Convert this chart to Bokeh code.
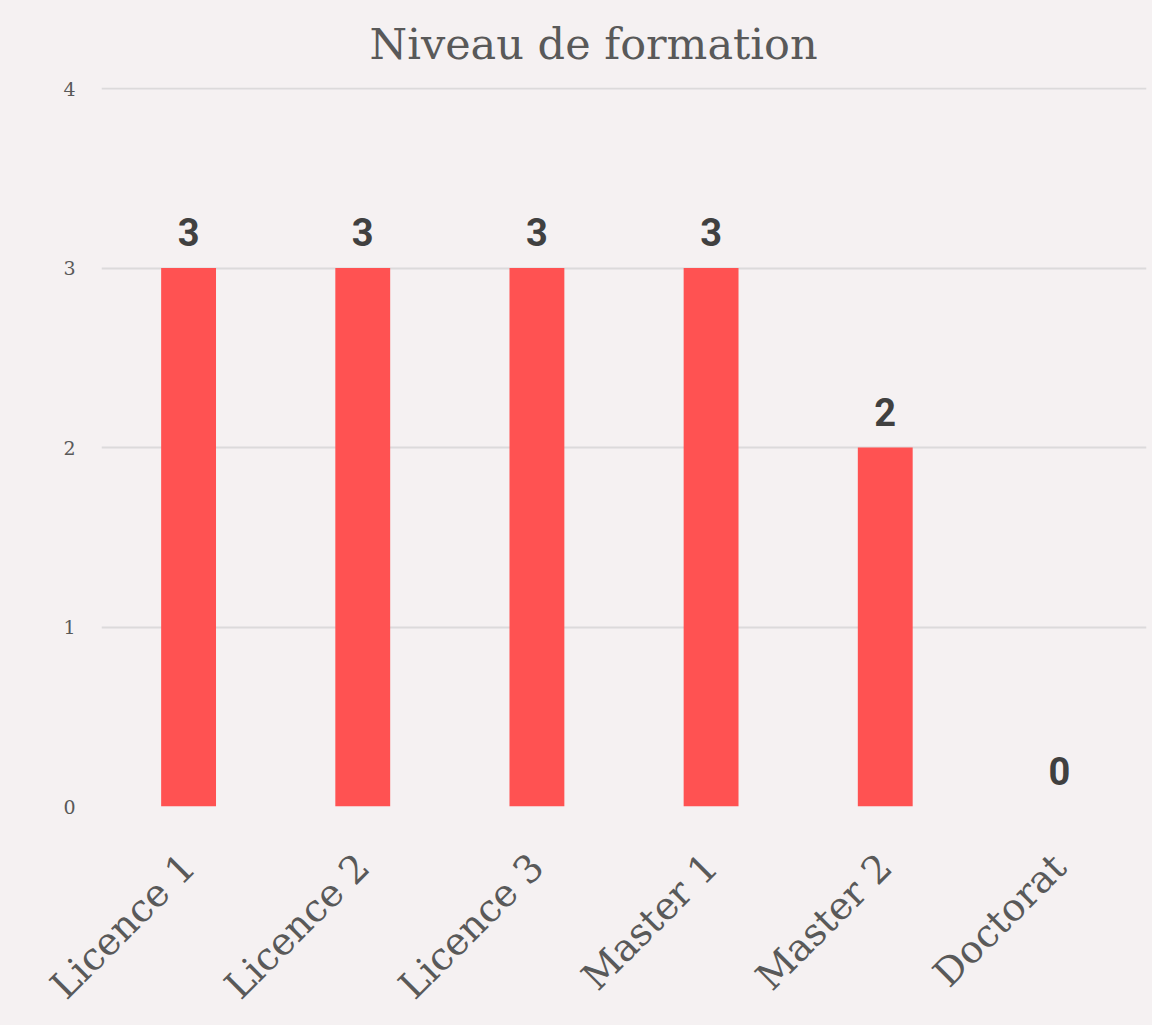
import numpy as np
from bokeh.plotting import figure
from bokeh.models import ColumnDataSource, FactorRange, Range1d, FixedTicker
from bokeh.core.properties import value
from bokeh.embed import file_html
from bokeh.resources import INLINE

categories = ["Licence 1", "Licence 2", "Licence 3", "Master 1", "Master 2", "Doctorat"]
counts = [3, 3, 3, 3, 2, 0]
y_ticks = [0, 1, 2, 3, 4]

BG = "#F5F1F2"
source = ColumnDataSource(data=dict(cat=categories, n=counts, lbl=[str(c) for c in counts]))

p = figure(x_range=FactorRange(*categories, range_padding=0), y_range=Range1d(0, 4.006),
           width=1152, height=1025, output_backend="svg", toolbar_location=None,
           title="Niveau de formation",
           min_border_left=101, min_border_right=6, min_border_top=87, min_border_bottom=218)

p.background_fill_color = BG
p.border_fill_color = BG
p.outline_line_color = None

p.title.text_font = "DejaVu Serif"
p.title.text_font_size = "43px"
p.title.text_font_style = "normal"
p.title.text_color = "#595959"
p.title.align = "left"
p.title.vertical_align = "top"
p.title.offset = 268
p.title.standoff = 33

p.vbar(x="cat", top="n", width=0.315, source=source, color="#FF5252", line_color=None)
p.text(x="cat", y="n", text="lbl", source=source, text_align="center",
       text_baseline="alphabetic", y_offset=-36, text_font=value("Roboto"),
       text_font_style="bold", text_font_size="38px", text_color="#404040")

p.yaxis.ticker = FixedTicker(ticks=y_ticks)
p.yaxis.axis_line_color = None
p.yaxis.major_tick_line_color = None
p.yaxis.minor_tick_line_color = None
p.yaxis.major_label_text_font = "DejaVu Serif"
p.yaxis.major_label_text_font_size = "19px"
p.yaxis.major_label_text_color = "#595959"
p.yaxis.major_label_standoff = 20

p.xaxis.axis_line_color = None
p.xaxis.major_tick_line_color = None
p.xaxis.major_label_orientation = np.pi / 4
p.xaxis.major_label_text_font = "DejaVu Serif"
p.xaxis.major_label_text_font_size = "38px"
p.xaxis.major_label_text_color = "#595959"
p.xaxis.major_label_standoff = 48

p.xgrid.grid_line_color = None
p.ygrid.grid_line_color = "#DCDADB"
p.ygrid.grid_line_width = 2

html = file_html(p, INLINE)
html = html.replace("<head>", "<head><style>html,body{background:%s;}</style>" % BG, 1)
open("out.html", "w").write(html)
